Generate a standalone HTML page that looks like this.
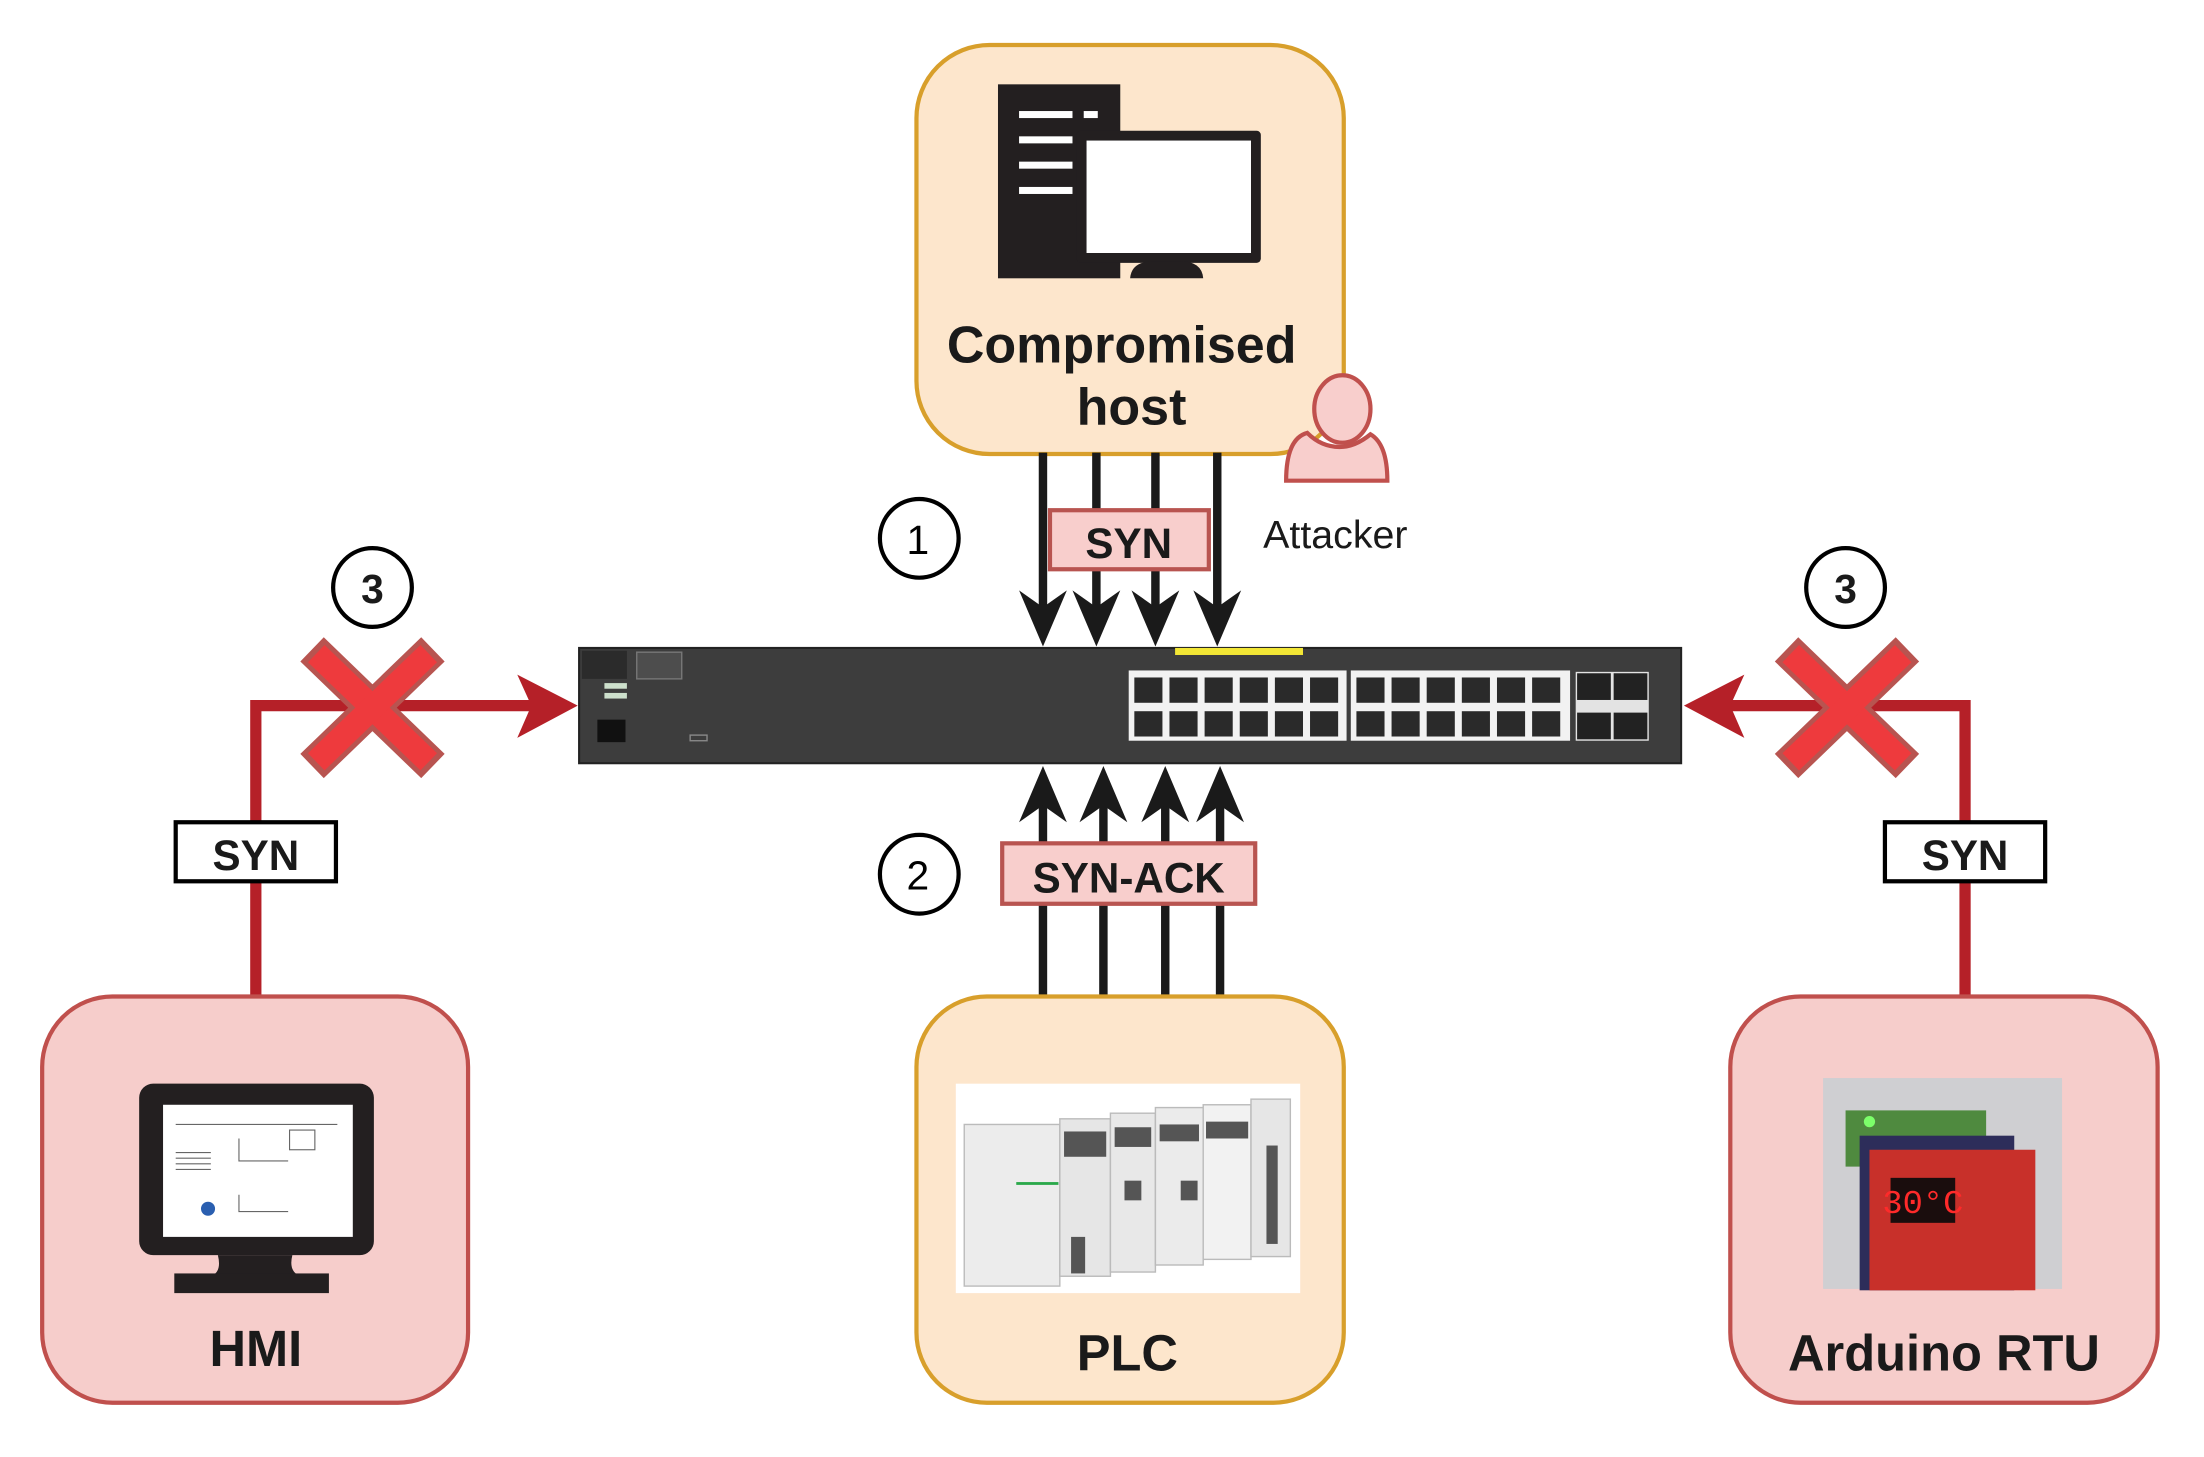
<!DOCTYPE html>
<html><head><meta charset="utf-8"><style>html,body{margin:0;padding:0;background:#fff}svg{display:block}</style></head>
<body>
<svg width="2204" height="1457" viewBox="0 0 1568 1036.6" preserveAspectRatio="none" xmlns="http://www.w3.org/2000/svg" font-family="Liberation Sans, Arial, sans-serif">
<!-- Compromised host -->
<rect x="652" y="32" width="304" height="291" rx="52" fill="#fde6cc" stroke="#d89f2b" stroke-width="3"/>
<rect x="710" y="60" width="87" height="138" fill="#231f20"/>
<g fill="#fff"><rect x="725" y="79" width="38" height="5"/><rect x="771" y="79" width="10" height="5"/><rect x="725" y="97" width="38" height="5"/><rect x="725" y="115" width="38" height="5"/><rect x="725" y="133" width="38" height="5"/></g>
<rect x="766" y="93" width="131" height="94" rx="3" fill="#231f20"/>
<rect x="773" y="100" width="117" height="80" fill="#fff"/>
<path d="M804 198 Q805 186 820 186 L840 186 Q855 186 856 198 Z" fill="#231f20"/>
<text x="798" y="258" font-size="37" font-weight="bold" text-anchor="middle" fill="#1a1a1a">Compromised</text>
<text x="805" y="302" font-size="37" font-weight="bold" text-anchor="middle" fill="#1a1a1a">host</text>
<!-- attacker -->
<path d="M915 342 Q915 312 930 308 Q940 318 953 318 Q964 318 975 309 Q987 316 987 342 Z" fill="#f8cecc" stroke="#c0504d" stroke-width="3"/>
<ellipse cx="955" cy="291" rx="20" ry="24" fill="#f8cecc" stroke="#c0504d" stroke-width="3"/>
<text x="950" y="390" font-size="28" text-anchor="middle" fill="#1a1a1a">Attacker</text>
<!-- down arrows -->
<g stroke="#1a1a1a" stroke-width="6">
<line x1="742" y1="322" x2="742" y2="440"/><line x1="780" y1="322" x2="780" y2="440"/><line x1="822" y1="322" x2="822" y2="440"/><line x1="866" y1="322" x2="866" y2="440"/>
</g>
<g fill="#1a1a1a">
<path d="M742 460 L725 420 L742 432 L759 420 Z"/><path d="M780 460 L763 420 L780 432 L797 420 Z"/><path d="M822 460 L805 420 L822 432 L839 420 Z"/><path d="M866 460 L849 420 L866 432 L883 420 Z"/>
</g>
<rect x="747" y="363" width="113" height="42" fill="#f8cecc" stroke="#b85450" stroke-width="3"/>
<text x="803" y="397" font-size="30" font-weight="bold" text-anchor="middle" fill="#1a1a1a">SYN</text>
<circle cx="654" cy="383" r="28" fill="#fff" stroke="#000" stroke-width="3"/>
<text x="653" y="394" font-size="29" text-anchor="middle" fill="#000">1</text>
<!-- switch -->
<rect x="412" y="461" width="784" height="82" fill="#3d3d3d" stroke="#222" stroke-width="1.5"/>
<rect x="414" y="463" width="32" height="20" fill="#2b2b2b"/>
<rect x="453" y="464" width="32" height="19" fill="#4d4d4d" stroke="#777" stroke-width="1"/>
<rect x="430" y="486" width="16" height="4" fill="#cde0cc"/><rect x="430" y="493" width="16" height="4" fill="#cde0cc"/>
<rect x="425" y="512" width="20" height="16" fill="#111"/>
<rect x="491" y="523" width="12" height="4" fill="none" stroke="#888" stroke-width="1"/>
<rect x="836" y="461" width="91" height="5" fill="#f2e635"/>
<rect x="803" y="477" width="155" height="50" fill="#f2f2f2"/>
<rect x="961" y="477" width="156" height="50" fill="#f2f2f2"/>
<g fill="#2a2a2a">
<rect x="807" y="482" width="20" height="18"/><rect x="832" y="482" width="20" height="18"/><rect x="857" y="482" width="20" height="18"/><rect x="882" y="482" width="20" height="18"/><rect x="907" y="482" width="20" height="18"/><rect x="932" y="482" width="20" height="18"/>
<rect x="807" y="506" width="20" height="18"/><rect x="832" y="506" width="20" height="18"/><rect x="857" y="506" width="20" height="18"/><rect x="882" y="506" width="20" height="18"/><rect x="907" y="506" width="20" height="18"/><rect x="932" y="506" width="20" height="18"/>
<rect x="965" y="482" width="20" height="18"/><rect x="990" y="482" width="20" height="18"/><rect x="1015" y="482" width="20" height="18"/><rect x="1040" y="482" width="20" height="18"/><rect x="1065" y="482" width="20" height="18"/><rect x="1090" y="482" width="20" height="18"/>
<rect x="965" y="506" width="20" height="18"/><rect x="990" y="506" width="20" height="18"/><rect x="1015" y="506" width="20" height="18"/><rect x="1040" y="506" width="20" height="18"/><rect x="1065" y="506" width="20" height="18"/><rect x="1090" y="506" width="20" height="18"/>
</g>
<rect x="1121" y="478" width="52" height="49" fill="#e3e3e3"/>
<g fill="#222"><rect x="1122" y="479" width="24" height="19"/><rect x="1148" y="479" width="24" height="19"/><rect x="1122" y="507" width="24" height="19"/><rect x="1148" y="507" width="24" height="19"/></g>
<!-- up arrows -->
<g stroke="#1a1a1a" stroke-width="6">
<line x1="742" y1="708" x2="742" y2="565"/><line x1="785" y1="708" x2="785" y2="565"/><line x1="829" y1="708" x2="829" y2="565"/><line x1="868" y1="708" x2="868" y2="565"/>
</g>
<g fill="#1a1a1a">
<path d="M742 545 L725 585 L742 573 L759 585 Z"/><path d="M785 545 L768 585 L785 573 L802 585 Z"/><path d="M829 545 L812 585 L829 573 L846 585 Z"/><path d="M868 545 L851 585 L868 573 L885 585 Z"/>
</g>
<rect x="713" y="600" width="180" height="43" fill="#f8cecc" stroke="#b85450" stroke-width="3"/>
<text x="803" y="635" font-size="30" font-weight="bold" text-anchor="middle" fill="#1a1a1a">SYN-ACK</text>
<circle cx="654" cy="622" r="28" fill="#fff" stroke="#000" stroke-width="3"/>
<text x="653" y="633" font-size="29" text-anchor="middle" fill="#000">2</text>
<!-- left red path -->
<path d="M182 708 L182 502 L380 502" fill="none" stroke="#b52028" stroke-width="8"/>
<path d="M411 502 L368 480 L378 502 L368 525 Z" fill="#b52028"/>
<g stroke-linecap="butt">
<line x1="222" y1="462" x2="308" y2="545" stroke="#b85450" stroke-width="24"/><line x1="308" y1="462" x2="222" y2="545" stroke="#b85450" stroke-width="24"/>
<line x1="225" y1="465" x2="305" y2="542" stroke="#ee3a3d" stroke-width="17"/><line x1="305" y1="465" x2="225" y2="542" stroke="#ee3a3d" stroke-width="17"/>
</g>
<circle cx="265" cy="418" r="28" fill="#fff" stroke="#000" stroke-width="3"/>
<text x="265" y="429" font-size="29" font-weight="bold" text-anchor="middle" fill="#1a1a1a">3</text>
<rect x="125" y="585" width="114" height="42" fill="#fff" stroke="#000" stroke-width="3"/>
<text x="182" y="619" font-size="30" font-weight="bold" text-anchor="middle" fill="#1a1a1a">SYN</text>
<!-- right red path -->
<path d="M1398 708 L1398 502 L1228 502" fill="none" stroke="#b52028" stroke-width="8"/>
<path d="M1198 502 L1241 480 L1231 502 L1241 525 Z" fill="#b52028"/>
<g stroke-linecap="butt">
<line x1="1271" y1="462" x2="1357" y2="545" stroke="#b85450" stroke-width="24"/><line x1="1357" y1="462" x2="1271" y2="545" stroke="#b85450" stroke-width="24"/>
<line x1="1274" y1="465" x2="1354" y2="542" stroke="#ee3a3d" stroke-width="17"/><line x1="1354" y1="465" x2="1274" y2="542" stroke="#ee3a3d" stroke-width="17"/>
</g>
<circle cx="1313" cy="418" r="28" fill="#fff" stroke="#000" stroke-width="3"/>
<text x="1313" y="429" font-size="29" font-weight="bold" text-anchor="middle" fill="#1a1a1a">3</text>
<rect x="1341" y="585" width="114" height="42" fill="#fff" stroke="#000" stroke-width="3"/>
<text x="1398" y="619" font-size="30" font-weight="bold" text-anchor="middle" fill="#1a1a1a">SYN</text>
<!-- HMI -->
<rect x="30" y="709" width="303" height="289" rx="50" fill="#f6cdcb" stroke="#c0504d" stroke-width="3"/>
<rect x="99" y="771" width="167" height="122" rx="10" fill="#231f20"/>
<rect x="116" y="786" width="135" height="94" fill="#fff"/>
<path d="M155 893 Q158 905 150 908 L214 908 Q205 905 208 893 Z" fill="#231f20"/>
<rect x="124" y="906" width="110" height="14" fill="#231f20"/>
<g stroke="#666" stroke-width="0.8" fill="none"><path d="M125 800 H240"/><path d="M125 820 H150 M125 824 H150 M125 828 H150 M125 832 H150"/><path d="M170 810 V826 H205"/><path d="M170 850 V862 H205"/><rect x="206" y="804" width="18" height="14"/></g>
<circle cx="148" cy="860" r="5" fill="#2a5fb0"/>
<text x="182" y="972" font-size="36" font-weight="bold" text-anchor="middle" fill="#1a1a1a">HMI</text>
<!-- PLC -->
<rect x="652" y="709" width="304" height="289" rx="50" fill="#fde6cc" stroke="#d89f2b" stroke-width="3"/>
<rect x="680" y="771" width="245" height="149" fill="#fff"/>
<g stroke="#bbb" stroke-width="1"><rect x="686" y="800" width="68" height="115" fill="#ececec"/><rect x="754" y="796" width="36" height="112" fill="#e6e6e6"/><rect x="790" y="792" width="32" height="113" fill="#e8e8e8"/><rect x="822" y="788" width="34" height="112" fill="#ebebeb"/><rect x="856" y="786" width="34" height="110" fill="#f2f2f2"/><rect x="890" y="782" width="28" height="112" fill="#e6e6e6"/></g>
<g fill="#555"><rect x="757" y="805" width="30" height="18"/><rect x="793" y="802" width="26" height="14"/><rect x="825" y="800" width="28" height="12"/><rect x="858" y="798" width="30" height="12"/><rect x="901" y="815" width="8" height="70"/><rect x="800" y="840" width="12" height="14"/><rect x="840" y="840" width="12" height="14"/><rect x="762" y="880" width="10" height="26"/></g>
<rect x="723" y="841" width="30" height="2" fill="#2aa84a"/>
<text x="802" y="975" font-size="36" font-weight="bold" text-anchor="middle" fill="#1a1a1a">PLC</text>
<!-- Arduino RTU -->
<rect x="1231" y="709" width="304" height="289" rx="50" fill="#f6cdcb" stroke="#c0504d" stroke-width="3"/>
<rect x="1297" y="767" width="170" height="150" fill="#cfcfd2"/>
<rect x="1313" y="790" width="100" height="40" fill="#4f8a3f"/>
<rect x="1323" y="808" width="110" height="110" fill="#2d2d5a"/>
<rect x="1330" y="818" width="118" height="100" fill="#c8302a"/>
<rect x="1345" y="838" width="46" height="32" fill="#1a0d0d"/>
<text x="1368" y="863" font-size="24" font-family="Liberation Mono, monospace" text-anchor="middle" fill="#ff2a2a">30°C</text>
<circle cx="1330" cy="798" r="4" fill="#7cff6a"/>
<text x="1383" y="975" font-size="36" font-weight="bold" text-anchor="middle" fill="#1a1a1a">Arduino RTU</text>
</svg>
</body></html>
